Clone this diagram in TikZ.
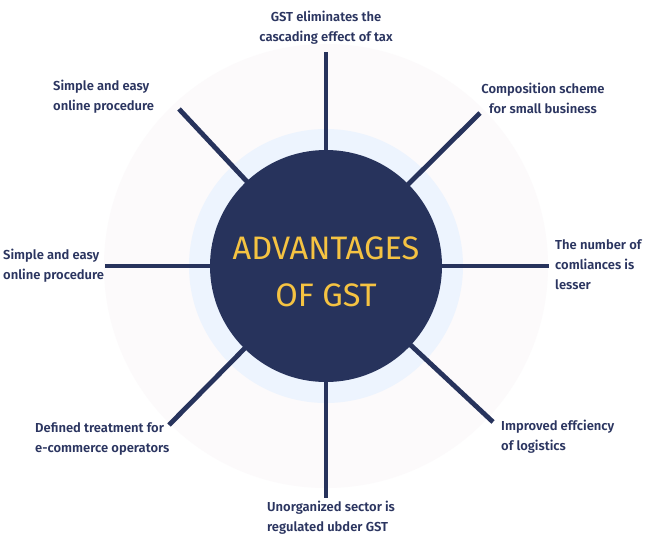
\documentclass[tikz,border=0pt]{standalone}
\usepackage{fontspec}
\setmainfont{Fira Sans}
\newfontfamily\lblfont{Fira Sans SemiBold}
\newfontfamily\ctrfont{Fira Sans}
\definecolor{navy}{HTML}{27335C}
\definecolor{txtnavy}{HTML}{2B3560}
\definecolor{gold}{HTML}{F5C342}
\definecolor{ringblue}{HTML}{EDF4FE}
\definecolor{pale}{HTML}{FCFAFB}
\begin{document}
\begin{tikzpicture}[x=1pt,y=-1pt,
  spoke/.style={draw=navy,line width=4.8pt},
  lbl/.style={text=txtnavy,font=\lblfont\fontsize{13}{20}\selectfont,inner sep=0pt},
]
\useasboundingbox (0,0) rectangle (651,552);
\fill[white] (0,0) rectangle (651,552);
\coordinate (c) at (326,266);
\fill[pale] (c) circle[radius=222];
\fill[ringblue] (c) circle[radius=137];
\coordinate (eT) at (326,52);
\coordinate (eB) at (326,498);
\coordinate (eL) at (105,266);
\coordinate (eR) at (549,266);
\coordinate (eUL) at (179,109);
\coordinate (eUR) at (480,113);
\coordinate (eLR) at (493,422);
\coordinate (eLL) at (169,425);
\foreach \e in {eT,eB,eL,eR,eUL,eUR,eLR,eLL} \draw[spoke] (c) -- (\e);
\node[circle,fill=navy,minimum size=232pt,inner sep=0pt] (hub) at (c) {};
\node[text=gold,font=\ctrfont\fontsize{32.5}{47}\selectfont,align=center,inner sep=0pt] (title) at (326,272) {ADVANTAGES\\OF GST};
\node[lbl,align=center,anchor=north] (lT) at (326,11) {GST eliminates the\\cascading effect of tax};
\node[lbl,align=left,anchor=north west] (lUL) at (53,80) {Simple and easy\\online procedure};
\node[lbl,align=center,anchor=north] (lUR) at (543,83) {Composition scheme\\for small business};
\node[lbl,align=left,anchor=north west] (lL) at (3,249) {Simple and easy\\online procedure};
\node[lbl,align=left,anchor=north west] (lR) at (555,239) {The number of\\comliances is\\lesser};
\node[lbl,align=left,anchor=north west] (lLL) at (35,422) {Defined treatment for\\e-commerce operators};
\node[lbl,align=left,anchor=north west] (lLR) at (501,420) {Improved effciency\\of logistics};
\node[lbl,align=left,anchor=north west] (lB) at (267,501) {Unorganized sector is\\regulated ubder GST};
\end{tikzpicture}
\end{document}
